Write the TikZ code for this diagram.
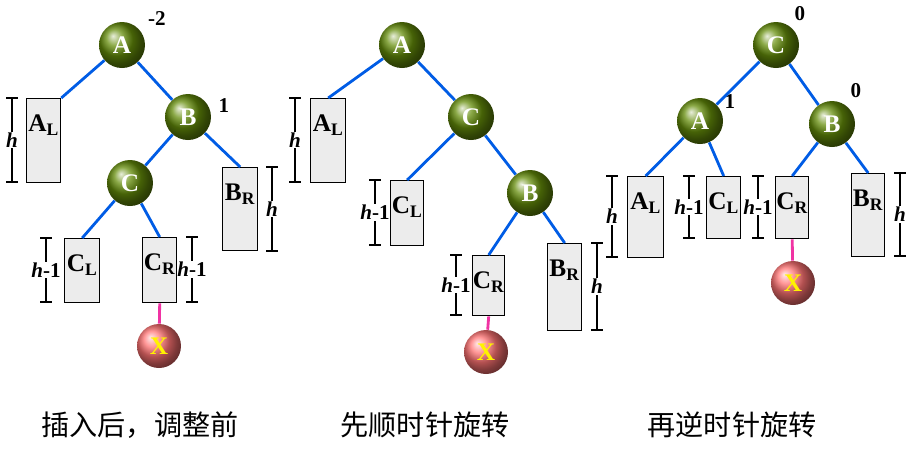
\documentclass[tikz,border=0pt]{standalone}
\usepackage{fontspec}
\setmainfont{Liberation Serif}
\newfontfamily\cjk{Noto Sans CJK SC}
\usetikzlibrary{shadings}
\definecolor{olivegreen}{RGB}{100,140,10}
\tikzset{
  ball/.style={circle, minimum size=0.92cm, inner sep=0pt, ball color=olivegreen,
    text=white, font=\bfseries\Large},
  xball/.style={circle, minimum size=0.88cm, inner sep=0pt, ball color=red!55!white,
    text=yellow, font=\bfseries\Large},
  tree/.style={draw=blue!60!cyan!90!black, line width=1.6pt},
  pink/.style={draw=magenta!80, line width=1.6pt},
  sub/.style={draw, line width=0.8pt, fill=gray!15, inner sep=0pt, anchor=north west},
  bal/.style={font=\bfseries\large},
  caption/.style={font=\cjk\fontsize{16}{19}\selectfont}
}
% \tbox{name}{x}{y}{w}{h}{label}  (pixel units)
\newcommand{\tbox}[6]{%
  \node[sub, minimum width=#4*0.02cm, minimum height=#5*0.02cm] (#1) at (#2,#3) {};
  \node[anchor=north, font=\bfseries\Large, inner sep=1pt] at ([yshift=-0.3cm]#1.north) {#6};}
% \dimbar{x}{y1}{y2}{label}
\newcommand{\dimbar}[4]{%
  \draw[line width=0.8pt] (#1-6,#2) -- (#1+6,#2) (#1-6,#3) -- (#1+6,#3) (#1,#2) -- (#1,#3);
  \node[fill=white, inner sep=0.5pt, font=\bfseries\large] at (#1,{(#2+#3)/2}) {#4};}
\begin{document}
\begin{tikzpicture}[x=0.02cm, y=-0.02cm]
\useasboundingbox (0,0) rectangle (906,458);
% before adjustment
\dimbar{12}{98}{182}{\textit{h}}
\dimbar{272}{167}{251}{\textit{h}}
\dimbar{46}{238}{302}{\textit{h}-1}
\dimbar{192}{237}{302}{\textit{h}-1}
\tbox{al1}{26}{98}{34}{84}{A$_\mathbf{L}$}
\tbox{br1}{222}{167}{35}{83}{B$_\mathbf{R}$}
\tbox{cl1}{64}{238}{35}{64}{C$_\mathbf{L}$}
\tbox{cr1}{142}{237}{34}{65}{C$_\mathbf{R}$}
\node[ball] (a1) at (122,45) {A};
\node[ball] (b1) at (188,117) {B};
\node[ball] (c1) at (130,183) {C};
\node[xball] (x1) at (159,346) {X};
\node[bal] at (157,19) {-2};
\node[bal] at (224,106) {1};
\draw[tree] (a1) -- ([xshift=10pt]al1.north) (a1) -- (b1) (b1) -- (c1)
  (b1) -- (br1.north) (c1) -- (cl1.north) (c1) -- (cr1.north);
\draw[pink] (cr1.south) -- (x1);
% after right rotation
\dimbar{295}{98}{182}{\textit{h}}
\dimbar{375}{180}{245}{\textit{h}-1}
\dimbar{456}{255}{315}{\textit{h}-1}
\dimbar{597}{243}{330}{\textit{h}}
\tbox{al2}{310}{98}{35}{84}{A$_\mathbf{L}$}
\tbox{cl2}{390}{180}{33}{65}{C$_\mathbf{L}$}
\tbox{cr2}{472}{255}{32}{60}{C$_\mathbf{R}$}
\tbox{br2}{547}{243}{34}{87}{B$_\mathbf{R}$}
\node[ball] (a2) at (402,45) {A};
\node[ball] (c2) at (471,117) {C};
\node[ball] (b2) at (530,193) {B};
\node[xball] (x2) at (486,352) {X};
\draw[tree] (a2) -- (al2.north) (a2) -- (c2) (c2) -- (cl2.north) (c2) -- (b2)
  (b2) -- (cr2.north) (b2) -- (br2.north);
\draw[pink] (cr2.south) -- (x2);
% after left rotation
\dimbar{612}{176}{257}{\textit{h}}
\dimbar{689}{176}{238}{\textit{h}-1}
\dimbar{758}{176}{238}{\textit{h}-1}
\dimbar{900}{173}{256}{\textit{h}}
\tbox{al3}{627}{176}{36}{81}{A$_\mathbf{L}$}
\tbox{cl3}{706}{176}{34}{62}{C$_\mathbf{L}$}
\tbox{cr3}{775}{176}{33}{62}{C$_\mathbf{R}$}
\tbox{br3}{851}{173}{33}{83}{B$_\mathbf{R}$}
\node[ball] (c3) at (776,45) {C};
\node[ball] (a3) at (700,121) {A};
\node[ball] (b3) at (832,124) {B};
\node[xball] (x3) at (793,283) {X};
\node[bal] at (800,14) {0};
\node[bal] at (730,102) {1};
\node[bal] at (856,91) {0};
\draw[tree] (c3) -- (a3) (c3) -- (b3) (a3) -- (al3.north) (a3) -- (cl3.north)
  (b3) -- (cr3.north) (b3) -- (br3.north);
\draw[pink] (cr3.south) -- (x3);
% captions
\node[caption] (t1) at (140,425) {插入后，调整前};
\node[caption] (t2) at (425,425) {先顺时针旋转};
\node[caption] (t3) at (732,425) {再逆时针旋转};
\end{tikzpicture}
\end{document}
